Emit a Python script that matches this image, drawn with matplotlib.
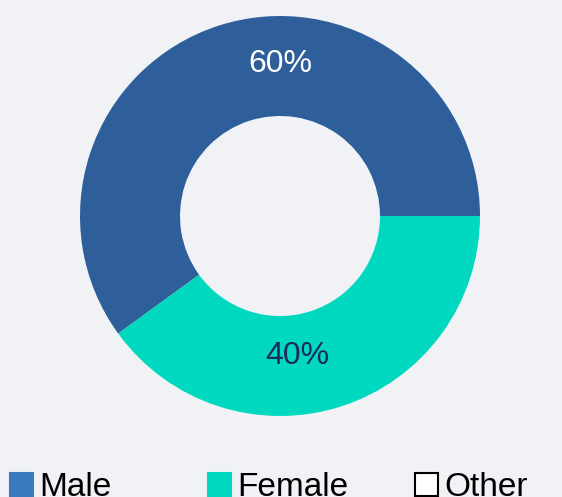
import matplotlib.pyplot as plt
from matplotlib.patches import Patch

labels = ['Male', 'Female', 'Other']
values = [60, 40, 0]
wedge_colors = ['#2e5f9b', '#00d9c0', '#ffffff']
legend_colors = ['#3a7bbf', '#00d9c0', '#ffffff']
pct_labels = ['60%', '40%']

bg = '#f0f2f6'
plt.rcParams['font.family'] = ['Liberation Sans', 'DejaVu Sans']

fig = plt.figure(figsize=(5.62, 4.97), dpi=100, facecolor=bg)
ax = fig.add_axes([80 / 562, 81 / 497, 400 / 562, 400 / 497])
ax.set_facecolor(bg)

shown = [v for v in values if v > 0]
wedges, _ = ax.pie(shown, colors=wedge_colors[:len(shown)], startangle=0,
                   counterclock=True, radius=1,
                   wedgeprops=dict(width=0.5, linewidth=0))
ax.set_xlim(-1, 1)
ax.set_ylim(-1, 1)
ax.set_aspect('equal')
ax.axis('off')

# percent labels
ax.text(0, 0.76, pct_labels[0], ha='center', va='center', fontsize=23, color='white')
ax.text(0.085, -0.70, pct_labels[1], ha='center', va='center', fontsize=23, color='#1b2a5c')

# legend: three evenly spaced entries
xs = [10, 208, 415]
for lab, col, x in zip(labels, legend_colors, xs):
    h = Patch(facecolor=col, edgecolor='black' if lab == 'Other' else col, linewidth=1.5)
    fig.legend([h], [lab], loc='lower left', bbox_to_anchor=(x / 562, -6 / 497),
               frameon=False, fontsize=24, handlelength=0.68, handleheight=0.68,
               handletextpad=0.2, borderpad=0, borderaxespad=0)

fig.savefig('out.png', dpi=100, facecolor=bg)
